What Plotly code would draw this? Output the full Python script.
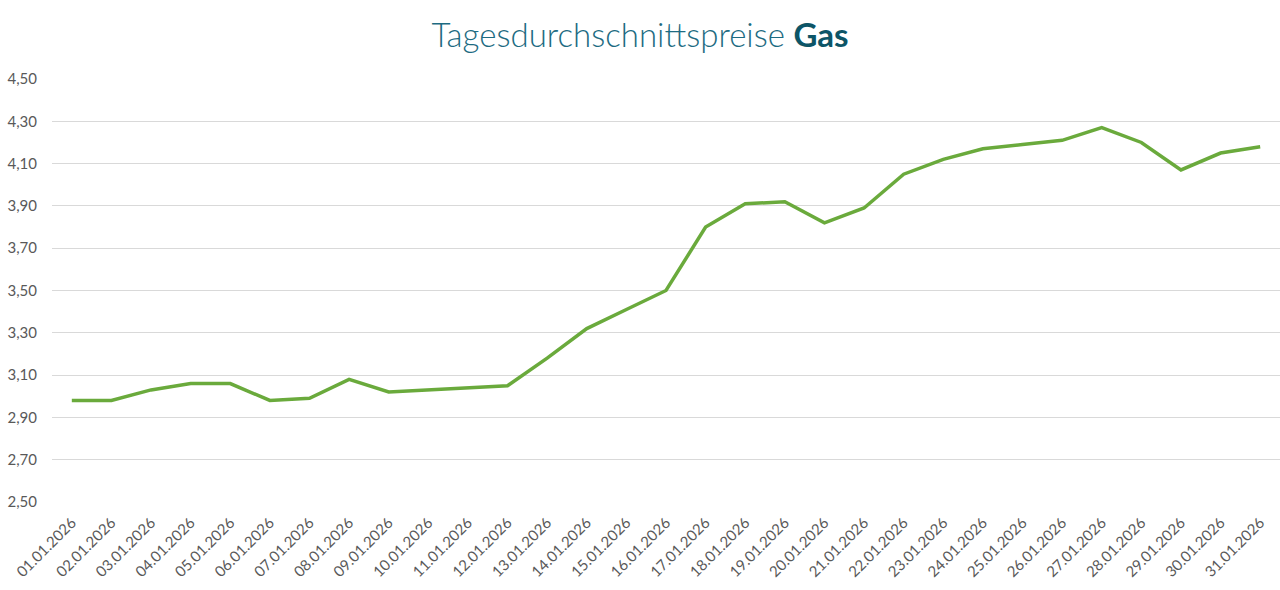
import plotly.graph_objects as go

dates = [f"{d:02d}.01.2026" for d in range(1, 32)]
prices = [2.98, 2.98, 3.03, 3.06, 3.06, 2.98, 2.99, 3.08, 3.02, 3.03, 3.04,
          3.05, 3.18, 3.32, 3.41, 3.50, 3.80, 3.91, 3.92, 3.82, 3.89, 4.05,
          4.12, 4.17, 4.19, 4.21, 4.27, 4.20, 4.07, 4.15, 4.18]
y_ticks = [2.5, 2.7, 2.9, 3.1, 3.3, 3.5, 3.7, 3.9, 4.1, 4.3, 4.5]

fig = go.Figure(go.Scatter(
    x=dates, y=prices, mode="lines",
    line=dict(color="#6aaa3c", width=3.5),
))

fig.update_layout(
    width=1280, height=590,
    margin=dict(l=52, r=0, t=79, b=88, autoexpand=False),
    paper_bgcolor="white", plot_bgcolor="white",
    separators=",.",
    showlegend=False,
    title=dict(
        text="<span style='font-weight:300'>Tagesdurchschnittspreise</span> <b style='color:#0d5567'>Gas</b>",
        x=0.5, xanchor="center", y=0.94, yanchor="middle",
        font=dict(family="Lato", size=33, color="#1d6b82"),
    ),
    font=dict(family="Lato", color="#595959"),
)
fig.update_xaxes(
    type="category", range=[-0.5, 30.5], automargin=False,
    tickangle=-45, tickfont=dict(size=15, color="#595959", family="Lato"),
    showgrid=False, showline=False, ticks="", ticklabelstandoff=8,
)
fig.update_yaxes(
    range=[2.5, 4.5], tickvals=y_ticks, tickformat=".2f", automargin=False,
    tickfont=dict(size=15, color="#595959", family="Lato"),
    showgrid=True, gridcolor="#d9d9d9", gridwidth=1,
    zeroline=False, showline=False, ticks="", ticklabelstandoff=14,
)

fig.write_html("out.html", config={"displayModeBar": False},
               post_script="document.body.style.margin='0';")
